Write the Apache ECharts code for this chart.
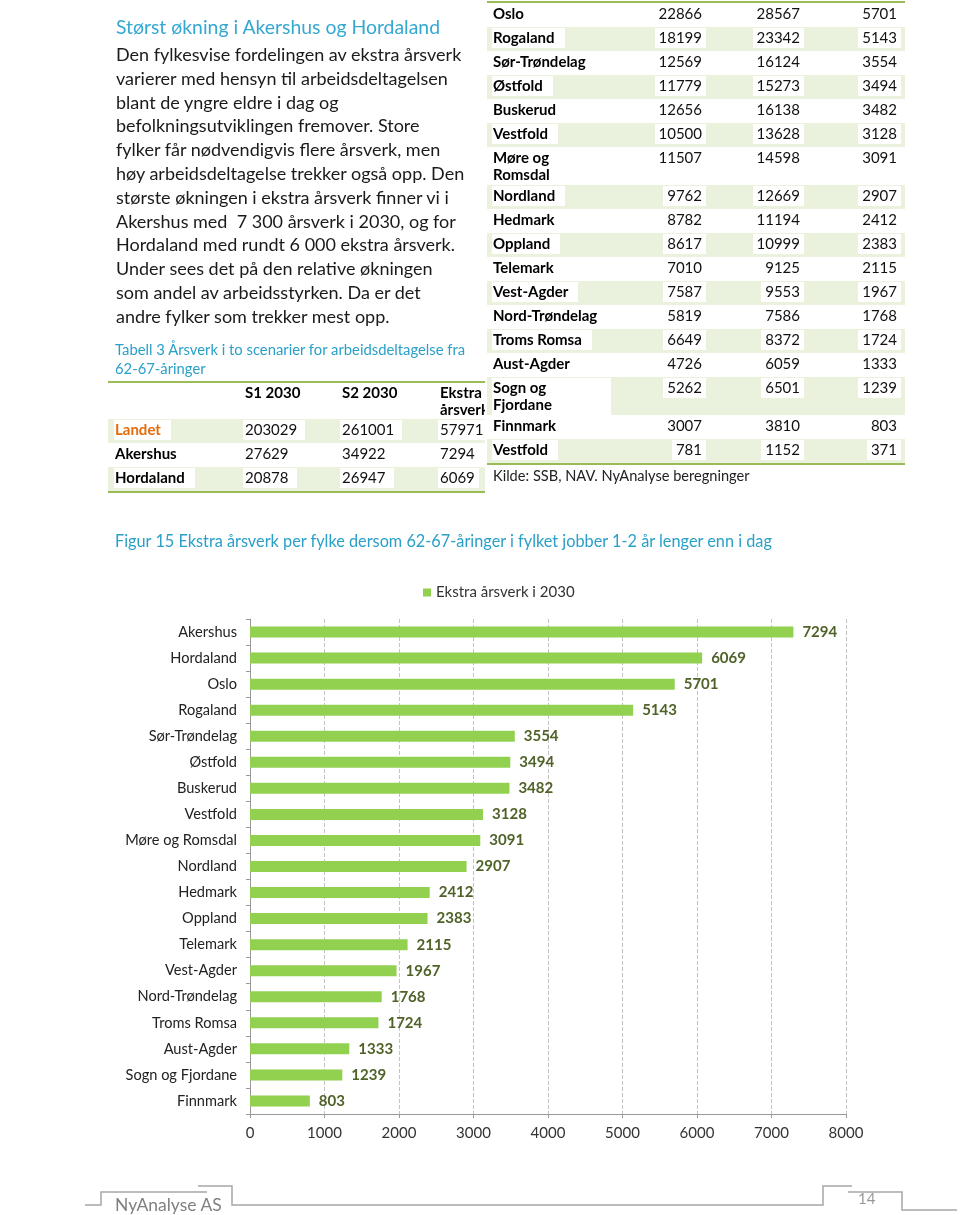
<!DOCTYPE html>
<html>
<head>
<meta charset="utf-8">
<script src="https://cdn.jsdelivr.net/npm/echarts@6/dist/echarts.min.js"></script>
<style>
  html, body { margin:0; padding:0; background:#fff; }
  #page { position:relative; width:960px; height:1215px; overflow:hidden; background:#fff; font-family:Lato, sans-serif; }
  #chart { position:absolute; left:0; top:0; width:960px; height:1215px; }
  .abs { position:absolute; white-space:nowrap; }
  #heading { left:116px; top:14px; font-size:19.4px; line-height:26px; color:#35A8D2; }
  #body { left:116px; top:43px; font-size:18px; line-height:23.8px; color:#1a1a1a; }
  #caption { left:115px; top:340px; font-size:14.8px; line-height:19px; color:#2AA0C8; }
  #figcap { left:115px; top:530px; font-size:16.3px; line-height:22px; color:#2AA0C8; }
  #kilde { left:493px; top:466px; font-size:14.6px; line-height:20px; color:#222; }
  #footname { left:115px; top:1194px; font-size:17.5px; line-height:22px; color:#808080; }
  #pagenum { left:858px; top:1189px; font-size:15px; line-height:18px; color:#999; }
  /* tables */
  .tbl { position:absolute; font-size:15px; color:#111; }
  .row { position:relative; display:flex; min-height:24px; padding-top:1px; box-sizing:border-box; }
  .row.shade { background:#EAF1DD; }
  .cell { box-sizing:border-box; flex-shrink:0; }
  .cell span { display:inline-block; background:#fff; line-height:17px; padding:1px 4px 2px; }
  .name span { font-weight:bold; color:#000; }
  .num { text-align:right; }
  #ltbl { left:108px; top:381px; width:377px; overflow:hidden; border-top:2px solid #9BBB59; border-bottom:2px solid #9BBB59; }
  #rtbl { left:487px; top:1px; width:418px; border-top:2px solid #9BBB59; border-bottom:2px solid #9BBB59; }
  .lhead { display:flex; height:36px; padding-top:1px; box-sizing:border-box; font-weight:bold; color:#000; }
  .lhead div { line-height:17px; flex-shrink:0; }
</style>
</head>
<body>
<div id="page">
  <div id="chart"></div>

  <div id="heading" class="abs">Størst økning i Akershus og Hordaland</div>
  <div id="body" class="abs">Den fylkesvise fordelingen av ekstra årsverk<br>varierer med hensyn til arbeidsdeltagelsen<br>blant de yngre eldre i dag og<br>befolkningsutviklingen fremover. Store<br>fylker får nødvendigvis flere årsverk, men<br>høy arbeidsdeltagelse trekker også opp. Den<br>største økningen i ekstra årsverk finner vi i<br>Akershus med&nbsp; 7 300 årsverk i 2030, og for<br>Hordaland med rundt 6 000 ekstra årsverk.<br>Under sees det på den relative økningen<br>som andel av arbeidsstyrken. Da er det<br>andre fylker som trekker mest opp.</div>
  <div id="caption" class="abs">Tabell 3 Årsverk i to scenarier for arbeidsdeltagelse fra<br>62-67-åringer</div>

  <div id="ltbl" class="tbl"></div>
  <div id="rtbl" class="tbl"></div>
  <div id="kilde" class="abs">Kilde: SSB, NAV. NyAnalyse beregninger</div>

  <div id="figcap" class="abs">Figur 15 Ekstra årsverk per fylke dersom 62-67-åringer i fylket jobber 1-2 år lenger enn i dag</div>

  <div id="footname" class="abs">NyAnalyse AS</div>
  <div id="pagenum" class="abs">14</div>
</div>

<script>
// ---------- DATA ----------
const tableHeaders = ['S1 2030', 'S2 2030', 'Ekstra årsverk'];

const topNames  = ['Landet', 'Akershus', 'Hordaland'];
const topS1     = [203029, 27629, 20878];
const topS2     = [261001, 34922, 26947];
const topEkstra = [57971, 7294, 6069];

const restNames  = ['Oslo', 'Rogaland', 'Sør-Trøndelag', 'Østfold', 'Buskerud', 'Vestfold', 'Møre og Romsdal', 'Nordland', 'Hedmark', 'Oppland', 'Telemark', 'Vest-Agder', 'Nord-Trøndelag', 'Troms Romsa', 'Aust-Agder', 'Sogn og Fjordane', 'Finnmark', 'Vestfold'];
const restS1     = [22866, 18199, 12569, 11779, 12656, 10500, 11507, 9762, 8782, 8617, 7010, 7587, 5819, 6649, 4726, 5262, 3007, 781];
const restS2     = [28567, 23342, 16124, 15273, 16138, 13628, 14598, 12669, 11194, 10999, 9125, 9553, 7586, 8372, 6059, 6501, 3810, 1152];
const restEkstra = [5701, 5143, 3554, 3494, 3482, 3128, 3091, 2907, 2412, 2383, 2115, 1967, 1768, 1724, 1333, 1239, 803, 371];

const chartSeriesName = 'Ekstra årsverk i 2030';
const chartCategories = ['Akershus', 'Hordaland', 'Oslo', 'Rogaland', 'Sør-Trøndelag', 'Østfold', 'Buskerud', 'Vestfold', 'Møre og Romsdal', 'Nordland', 'Hedmark', 'Oppland', 'Telemark', 'Vest-Agder', 'Nord-Trøndelag', 'Troms Romsa', 'Aust-Agder', 'Sogn og Fjordane', 'Finnmark'];
const chartValues     = [7294, 6069, 5701, 5143, 3554, 3494, 3482, 3128, 3091, 2907, 2412, 2383, 2115, 1967, 1768, 1724, 1333, 1239, 803];
const xTicks = [0, 1000, 2000, 3000, 4000, 5000, 6000, 7000, 8000];

// ---------- TABLES ----------
function esc(s){ return String(s).replace(/&/g,'&amp;').replace(/</g,'&lt;'); }

// left (top part of table)
(function(){
  const t = document.getElementById('ltbl');
  let h = '<div class="lhead"><div style="width:137px"></div>';
  const hw = [97, 98, 80];
  tableHeaders.forEach((x,i)=>{ h += '<div style="width:'+hw[i]+'px;white-space:normal;height:34px;overflow:visible">'+esc(x)+'</div>'; });
  h += '</div>';
  topNames.forEach((n,i)=>{
    const shade = (i % 2 === 0) ? ' shade' : '';
    h += '<div class="row'+shade+'">' +
      '<div class="cell name" style="width:135px;padding-left:6px"><span style="padding:1px 10px 2px 1px;'+(i===0?'color:#E46C0A':'')+'">'+esc(n)+'</span></div>' +
      '<div class="cell" style="width:97px"><span style="padding:1px 8px 2px 2px">'+topS1[i]+'</span></div>' +
      '<div class="cell" style="width:98px"><span style="padding:1px 8px 2px 2px">'+topS2[i]+'</span></div>' +
      '<div class="cell" style="width:60px"><span style="padding:1px 4px 2px 2px">'+topEkstra[i]+'</span></div>' +
      '</div>';
  });
  t.innerHTML = h;
})();

// right (continuation)
(function(){
  const t = document.getElementById('rtbl');
  let h = '';
  restNames.forEach((n,i)=>{
    const shade = (i % 2 === 1) ? ' shade' : '';
    h += '<div class="row'+shade+'">' +
      '<div class="cell name" style="width:126px;padding-left:5px"><span style="padding:1px 10px 2px 1px;max-width:108px;white-space:normal">'+esc(n)+'</span></div>' +
      '<div class="cell num" style="width:93px"><span>'+restS1[i]+'</span></div>' +
      '<div class="cell num" style="width:98px"><span>'+restS2[i]+'</span></div>' +
      '<div class="cell num" style="width:97px"><span>'+restEkstra[i]+'</span></div>' +
      '</div>';
  });
  t.innerHTML = h;
})();

// ---------- CHART ----------
const chart = echarts.init(document.getElementById('chart'), null, {renderer:'canvas'});
const lineCol = '#A6A6A6';
function pl(points){ return { type:'polyline', shape:{points:points}, style:{stroke:lineCol, lineWidth:1.5, fill:null}, silent:true }; }

chart.setOption({
  animation: false,
  backgroundColor: 'transparent',
  legend: {
    data: [chartSeriesName],
    left: 418, top: 580,
    icon: 'rect', itemWidth: 8, itemHeight: 8,
    textStyle: { fontFamily: 'Lato', fontSize: 15, color: '#333' }
  },
  grid: { left: 250, right: 114, top: 619, bottom: 101, containLabel: false },
  xAxis: {
    type: 'value', min: xTicks[0], max: xTicks[xTicks.length-1], interval: xTicks[1]-xTicks[0],
    axisLine: { show: true, lineStyle: { color: '#999', width: 1 } },
    axisTick: { show: true, length: 4, lineStyle: { color: '#999' } },
    splitLine: { show: true, lineStyle: { type: 'dashed', color: '#c4c4c4', width: 1 } },
    axisLabel: { fontFamily: 'Lato', fontSize: 15, color: '#333', margin: 12, formatter: function(v){ return String(v); } }
  },
  yAxis: {
    type: 'category', data: chartCategories, inverse: true,
    axisLine: { show: true, lineStyle: { color: '#999', width: 1 } },
    axisTick: { show: true, length: 4, lineStyle: { color: '#999' } },
    axisLabel: { fontFamily: 'Lato', fontSize: 14.6, color: '#222', margin: 13 }
  },
  series: [{
    type: 'bar', name: chartSeriesName, data: chartValues, barWidth: 11,
    itemStyle: { color: '#92D050' },
    label: { show: true, position: 'right', distance: 9, fontFamily: 'Lato', fontWeight: 'bold', fontSize: 15, color: '#4F6228' }
  }],
  graphic: [
    pl([[85,1205],[101,1205],[101,1192],[207,1192]]),
    pl([[198,1186],[232,1186],[232,1205],[823,1205],[823,1186],[852,1186]]),
    pl([[848,1192],[902,1192],[902,1210],[957,1210]])
  ]
});
</script>
</body>
</html>
